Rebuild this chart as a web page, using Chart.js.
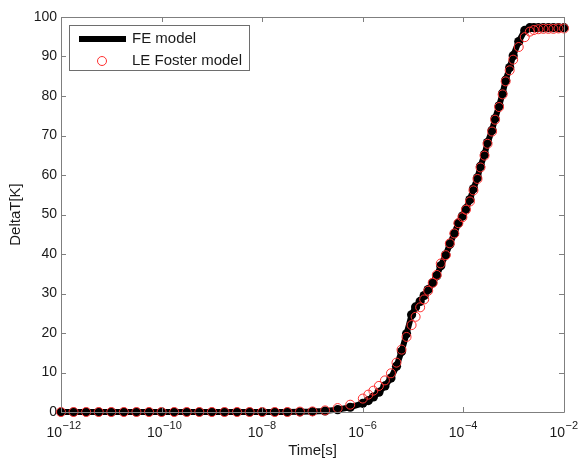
<!DOCTYPE html>
<html>
<head>
<meta charset="utf-8">
<script src="https://cdn.jsdelivr.net/npm/chart.js@4.4.1/dist/chart.umd.min.js"></script>
<style>
  html, body { margin: 0; padding: 0; background: #fff; }
  #wrap { width: 581px; height: 460px; position: relative; }
</style>
</head>
<body>
<div id="wrap"><canvas id="myChart"></canvas></div>
<script>
// time points as log10 exponents (time in seconds)
const timeExp = [
  -12, -11.75, -11.5, -11.25, -11, -10.75, -10.5, -10.25, -10, -9.75, -9.5, -9.25,
  -9, -8.75, -8.5, -8.25, -8, -7.75, -7.5, -7.25, -7, -6.75, -6.5, -6.25, -6,
  -5.89, -5.79, -5.68, -5.56, -5.44, -5.33, -5.23, -5.13, -5.03,
  -4.95, -4.86, -4.78, -4.70, -4.61, -4.53, -4.45, -4.35, -4.27, -4.18, -4.10,
  -4.02, -3.95, -3.87, -3.80, -3.72, -3.66, -3.58, -3.52, -3.43, -3.37,
  -3.29, -3.22, -3.16, -3.08, -3.01, -2.90, -2.78, -2.68, -2.60, -2.51,
  -2.41, -2.31, -2.21, -2.11, -2.0
];

const feModel = [
  0, 0, 0, 0, 0, 0, 0, 0, 0, 0, 0, 0,
  0, 0, 0, 0, 0, 0, 0, 0.05, 0.1, 0.25, 0.6, 1.2, 2.2,
  2.9, 3.8, 5.0, 6.6, 8.6, 11.6, 15.3, 19.8, 24.6,
  26.6, 28.0, 29.5, 31.0, 32.7, 34.5, 37.0, 39.8, 42.5, 45.2, 47.8,
  49.6, 51.4, 53.8, 56.5, 59.3, 62.2, 65.2, 68.2, 71.3, 74.3,
  77.5, 80.7, 84.0, 87.2, 90.2, 93.8, 96.6, 97.3, 97.3, 97.3,
  97.3, 97.3, 97.3, 97.3, 97.3
];

const fosterModel = [
  0, 0, 0, 0, 0, 0, 0, 0, 0, 0, 0, 0,
  0, 0, 0, 0, 0, 0, 0, 0.1, 0.15, 0.4, 1.0, 1.85, 3.4,
  4.4, 5.4, 6.6, 8.0, 9.8, 12.5, 15.8, 19.0, 22.0,
  24.1, 26.5, 28.5, 30.7, 32.7, 34.7, 37.6, 39.7, 42.7, 45.2, 47.8,
  49.3, 51.2, 53.3, 56.1, 59.0, 61.9, 64.9, 67.9, 71.0, 74.0,
  77.2, 80.4, 83.7, 86.5, 89.2, 92.4, 94.9, 96.3, 96.7, 96.9,
  97.0, 97.0, 97.0, 97.1, 97.1
];

const xTickExp = [-12, -10, -8, -6, -4, -2];
const yTicks = [0, 10, 20, 30, 40, 50, 60, 70, 80, 90, 100];
const legendLabels = ["FE model", "LE Foster model"];

const AXIS_COLOR = "#7f7f7f";
const TEXT_COLOR = "#1a1a1a";
const RED = "#ff3030";
const FONT = "Arial, 'Liberation Sans', Helvetica, sans-serif";

const toPoints = (vals) => timeExp.map((e, i) => ({ x: Math.pow(10, e), y: vals[i] }));

// box, inward ticks, x tick labels with exponents, axis titles, legend
const matlabAxes = {
  id: "matlabAxes",
  afterDraw(chart) {
    const { ctx, chartArea: a, scales } = chart;
    const xs = scales.x, ys = scales.y;
    ctx.save();
    ctx.strokeStyle = AXIS_COLOR;
    ctx.lineWidth = 1;
    ctx.beginPath();
    ctx.rect(Math.round(a.left) + 0.5, Math.round(a.top) + 0.5,
      Math.round(a.right - a.left), Math.round(a.bottom - a.top));
    yTicks.forEach((v) => {
      const y = Math.round(ys.getPixelForValue(v)) + 0.5;
      ctx.moveTo(a.left, y); ctx.lineTo(a.left + 5, y);
      ctx.moveTo(a.right, y); ctx.lineTo(a.right - 5, y);
    });
    xTickExp.forEach((e) => {
      const x = Math.round(xs.getPixelForValue(Math.pow(10, e))) + 0.5;
      ctx.moveTo(x, a.bottom); ctx.lineTo(x, a.bottom - 5);
      ctx.moveTo(x, a.top); ctx.lineTo(x, a.top + 5);
    });
    ctx.stroke();

    // x tick labels: 10^e
    ctx.fillStyle = TEXT_COLOR;
    ctx.textBaseline = "alphabetic";
    xTickExp.forEach((e) => {
      const x = xs.getPixelForValue(Math.pow(10, e));
      ctx.font = "14px " + FONT;
      ctx.textAlign = "right";
      ctx.fillText("10", x + 1, a.bottom + 25);
      ctx.font = "11px " + FONT;
      ctx.textAlign = "left";
      ctx.fillText("\u2212" + Math.abs(e), x + 1.5, a.bottom + 17);
    });

    // axis titles
    ctx.font = "15px " + FONT;
    ctx.textAlign = "center";
    ctx.fillText("Time[s]", (a.left + a.right) / 2, 455);
    ctx.save();
    ctx.translate(20, (a.top + a.bottom) / 2);
    ctx.rotate(-Math.PI / 2);
    ctx.textBaseline = "alphabetic";
    ctx.fillText("DeltaT[K]", 0, 0);
    ctx.restore();

    // legend
    ctx.fillStyle = "#fff";
    ctx.fillRect(69.5, 25.5, 180, 45);
    ctx.strokeStyle = "#6e6e6e";
    ctx.strokeRect(69.5, 25.5, 180, 45);
    ctx.strokeStyle = "#000";
    ctx.lineWidth = 6;
    ctx.beginPath();
    ctx.moveTo(79, 39); ctx.lineTo(126, 39);
    ctx.stroke();
    ctx.strokeStyle = RED;
    ctx.lineWidth = 1;
    ctx.beginPath();
    ctx.arc(102, 61, 4.5, 0, Math.PI * 2);
    ctx.stroke();
    ctx.fillStyle = TEXT_COLOR;
    ctx.font = "15px " + FONT;
    ctx.textAlign = "left";
    ctx.textBaseline = "middle";
    ctx.fillText(legendLabels[0], 132, 39);
    ctx.fillText(legendLabels[1], 132, 61);
    ctx.restore();
  }
};

const ctx = document.getElementById("myChart").getContext("2d");
window.chart = new Chart(ctx, {
  type: "line",
  data: {
    datasets: [
      {
        label: legendLabels[1],
        data: toPoints(fosterModel),
        showLine: false,
        pointStyle: "circle",
        pointRadius: 4.5,
        pointBorderWidth: 1,
        pointBorderColor: RED,
        pointBackgroundColor: "rgba(0,0,0,0)",
        order: 0,
        clip: false,
      },
      {
        label: legendLabels[0],
        data: toPoints(feModel),
        borderColor: "#000",
        borderWidth: 6,
        borderJoinStyle: "round",
        pointRadius: 4.6,
        pointBorderWidth: 0,
        pointBackgroundColor: "#000",
        tension: 0,
        order: 1,
        clip: false,
      },
    ],
  },
  options: {
    responsive: true,
    maintainAspectRatio: false,
    animation: false,
    events: [],
    layout: { padding: { left: 0, right: 17, top: 17, bottom: 0 } },
    plugins: {
      legend: { display: false },
      tooltip: { enabled: false },
      title: { display: false },
    },
    scales: {
      x: {
        type: "logarithmic",
        min: 1e-12,
        max: 1e-2,
        grid: { display: false, drawTicks: false },
        border: { display: false },
        ticks: { display: false },
        afterFit: (s) => { s.height = 48; },
      },
      y: {
        min: 0,
        max: 100,
        grid: { display: false, drawTicks: false },
        border: { display: false },
        ticks: {
          stepSize: 10,
          padding: 4,
          color: TEXT_COLOR,
          font: { size: 14, family: FONT },
        },
        afterFit: (s) => { s.width = 61; },
      },
    },
  },
  plugins: [matlabAxes],
});
</script>
</body>
</html>
